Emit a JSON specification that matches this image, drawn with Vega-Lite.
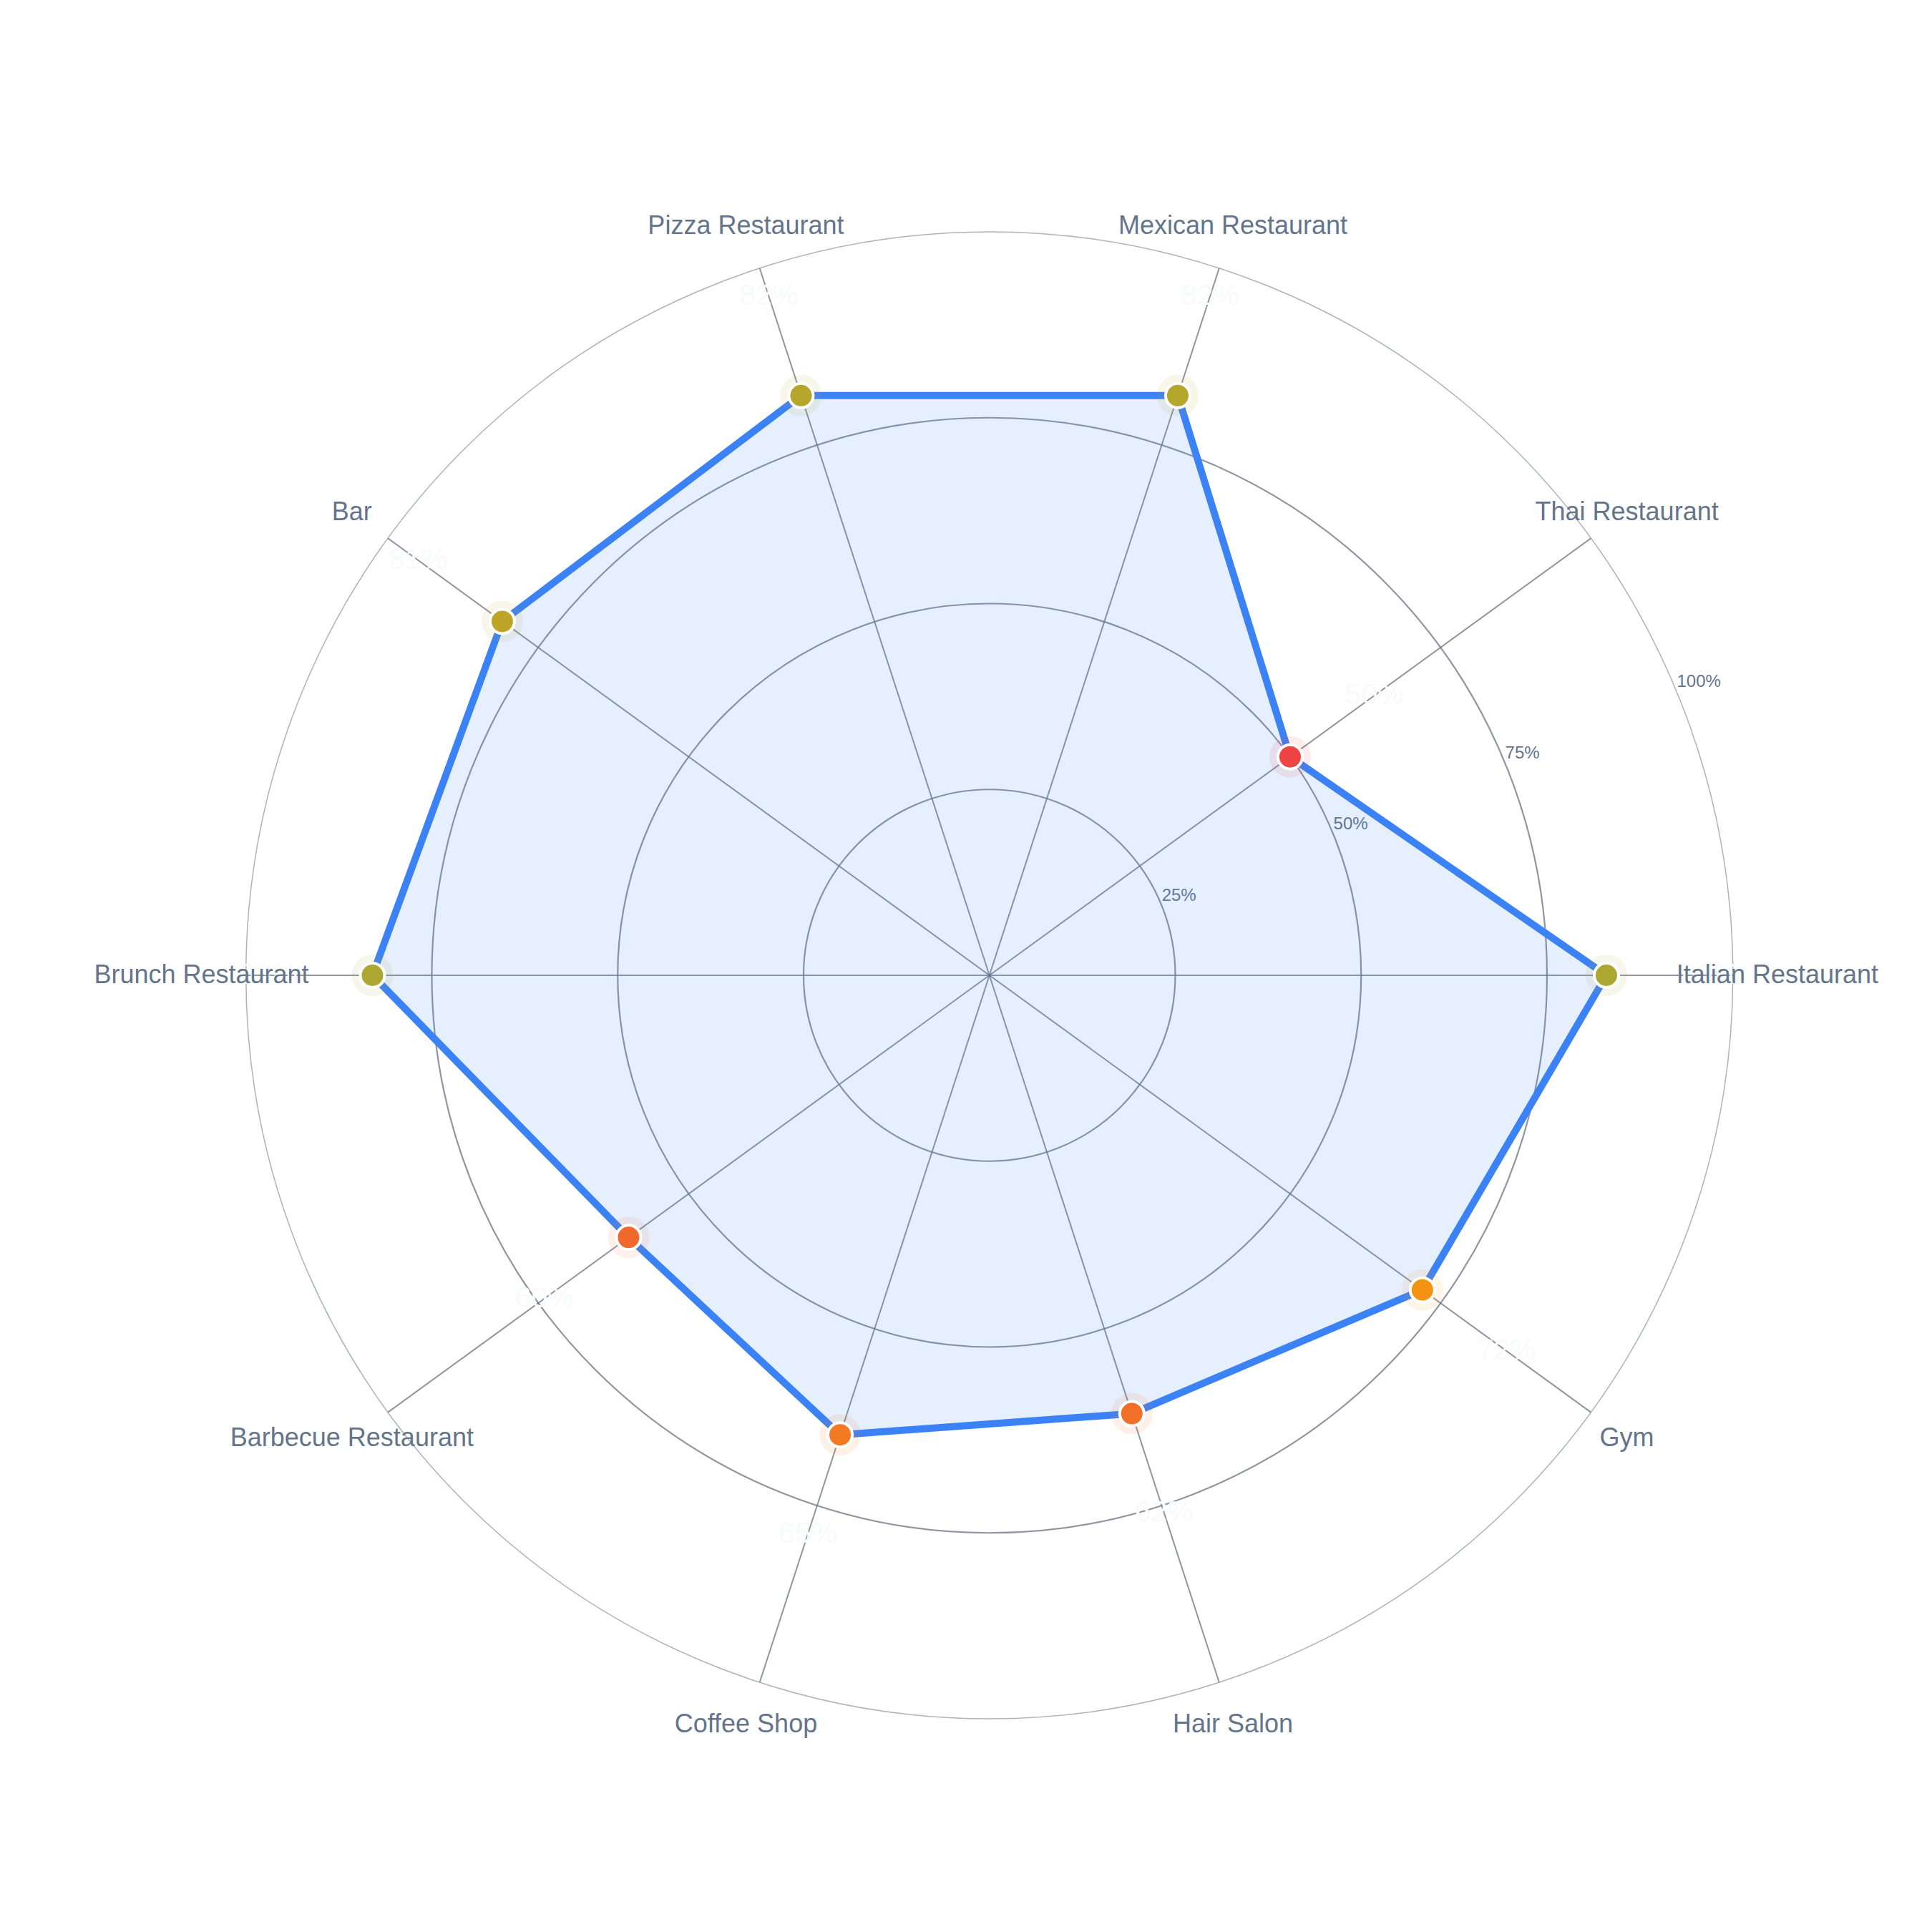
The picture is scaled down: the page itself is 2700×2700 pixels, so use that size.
{
  "$schema": "https://vega.github.io/schema/vega-lite/v6.json",
  "description": "Radar chart of venue scores by category.",
  "width": 2700,
  "height": 2700,
  "autosize": {"type": "none"},
  "padding": 0,
  "background": "white",
  "config": {"view": {"stroke": null}, "font": "Liberation Sans"},
  "datasets": {
    "venues": [
      {"category": "Italian Restaurant", "value": 83},
      {"category": "Thai Restaurant", "value": 50},
      {"category": "Mexican Restaurant", "value": 82},
      {"category": "Pizza Restaurant", "value": 82},
      {"category": "Bar", "value": 81},
      {"category": "Brunch Restaurant", "value": 83},
      {"category": "Barbecue Restaurant", "value": 60},
      {"category": "Coffee Shop", "value": 65},
      {"category": "Hair Salon", "value": 62},
      {"category": "Gym", "value": 72}
    ],
    "rings": [
      {"ring": 25, "full": 1},
      {"ring": 50, "full": 1},
      {"ring": 75, "full": 1},
      {"ring": 100, "full": 1}
    ]
  },
  "layer": [
    {
      "data": {"name": "rings"},
      "mark": {"type": "arc", "filled": false, "stroke": "#6b7280"},
      "encoding": {
        "x": {"datum": 0, "type": "quantitative", "scale": {"domain": [-133.1, 126.8], "nice": false, "zero": false}, "axis": null},
        "y": {"datum": 0, "type": "quantitative", "scale": {"domain": [-128.7, 131.2], "nice": false, "zero": false}, "axis": null},
        "theta": {"field": "full", "type": "quantitative", "stack": null, "scale": {"domain": [0, 1], "range": [0, 6.2832], "zero": true}},
        "radius": {"field": "ring", "type": "quantitative", "scale": {"type": "linear", "domain": [0, 100], "range": [0, 1039], "zero": true}},
        "strokeWidth": {"condition": {"test": "datum.ring == 100", "value": 1.5}, "value": 2.2},
        "strokeOpacity": {"condition": {"test": "datum.ring == 100", "value": 0.55}, "value": 0.75}
      }
    },
    {
      "data": {"name": "rings"},
      "transform": [
        {"calculate": "datum.ring * cos(PI / 8)", "as": "tx"},
        {"calculate": "datum.ring * sin(PI / 8)", "as": "ty"},
        {"calculate": "datum.ring + '%'", "as": "tlabel"}
      ],
      "mark": {"type": "text", "align": "left", "baseline": "bottom", "dx": 1, "fontSize": 24, "fill": "#64748b"},
      "encoding": {
        "x": {"field": "tx", "type": "quantitative", "scale": {"domain": [-133.1, 126.8], "nice": false, "zero": false}, "axis": null},
        "y": {"field": "ty", "type": "quantitative", "scale": {"domain": [-128.7, 131.2], "nice": false, "zero": false}, "axis": null},
        "text": {"field": "tlabel", "type": "nominal"}
      }
    },
    {
      "data": {"name": "venues"},
      "transform": [
        {"window": [{"op": "row_number", "as": "idx"}]},
        {"calculate": "(datum.idx - 1) * PI / 5", "as": "a"},
        {"calculate": "datum.value * cos(datum.a)", "as": "px"},
        {"calculate": "datum.value * sin(datum.a)", "as": "py"},
        {"calculate": "0", "as": "ox"},
        {"calculate": "100 * cos(datum.a)", "as": "sx"},
        {"calculate": "100 * sin(datum.a)", "as": "sy"},
        {"calculate": "106 * cos(datum.a)", "as": "lx"},
        {"calculate": "106 * sin(datum.a)", "as": "ly"},
        {"calculate": "(datum.value + 14) * cos(datum.a)", "as": "vx"},
        {"calculate": "(datum.value + 14) * sin(datum.a)", "as": "vy"},
        {"calculate": "datum.value + '%'", "as": "vlabel"}
      ],
      "layer": [
        {
          "mark": {"type": "rule", "stroke": "#6b7280", "strokeWidth": 2, "strokeOpacity": 0.75},
          "encoding": {
            "x": {"field": "ox", "type": "quantitative", "scale": {"domain": [-133.1, 126.8], "nice": false, "zero": false}, "axis": null},
            "y": {"field": "ox", "type": "quantitative", "scale": {"domain": [-128.7, 131.2], "nice": false, "zero": false}, "axis": null},
            "x2": {"field": "sx"},
            "y2": {"field": "sy"}
          }
        },
        {
          "mark": {"type": "line", "interpolate": "linear-closed", "fill": "#3b82f6", "fillOpacity": 0.13, "stroke": "#3b82f6", "strokeWidth": 10, "strokeJoin": "round"},
          "encoding": {
            "x": {"field": "px", "type": "quantitative"},
            "y": {"field": "py", "type": "quantitative"},
            "order": {"field": "idx", "type": "quantitative"}
          }
        },
        {
          "mark": {"type": "point", "shape": "circle", "filled": true, "size": 3364, "opacity": 0.1},
          "encoding": {
            "x": {"field": "px", "type": "quantitative"},
            "y": {"field": "py", "type": "quantitative"},
            "fill": {"field": "value", "type": "quantitative", "scale": {"domain": [50, 75, 100], "range": ["#ef4444", "#f59e0b", "#10b981"], "interpolate": "rgb"}, "legend": null}
          }
        },
        {
          "mark": {"type": "point", "shape": "circle", "filled": true, "size": 1156, "opacity": 1, "stroke": "white", "strokeWidth": 4},
          "encoding": {
            "x": {"field": "px", "type": "quantitative"},
            "y": {"field": "py", "type": "quantitative"},
            "fill": {"field": "value", "type": "quantitative", "legend": null}
          }
        },
        {
          "mark": {"type": "text", "align": "center", "baseline": "middle", "fontSize": 41, "fill": "#f8fafc"},
          "encoding": {
            "x": {"field": "vx", "type": "quantitative"},
            "y": {"field": "vy", "type": "quantitative"},
            "text": {"field": "vlabel", "type": "nominal"}
          }
        },
        {
          "mark": {"type": "text", "align": "center", "baseline": "middle", "fontSize": 36, "fill": "#64748b"},
          "encoding": {
            "x": {"field": "lx", "type": "quantitative"},
            "y": {"field": "ly", "type": "quantitative"},
            "text": {"field": "category", "type": "nominal"}
          }
        }
      ]
    }
  ]
}
